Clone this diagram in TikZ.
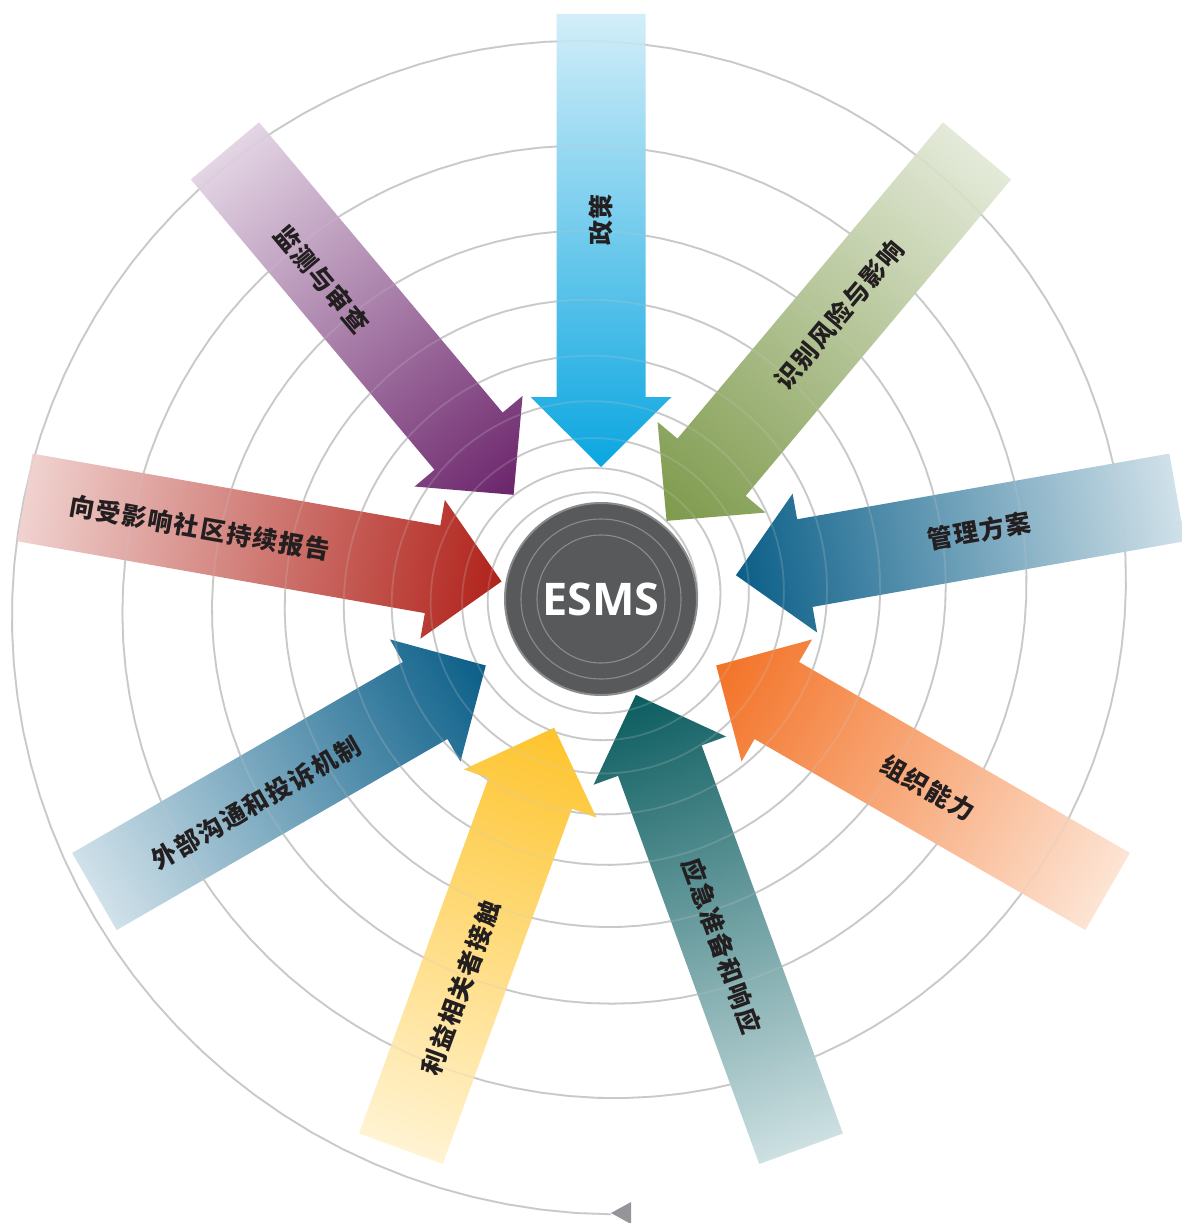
\documentclass[tikz,border=0pt]{standalone}
\usepackage{fontspec}
\newfontfamily\cjk{Noto Sans CJK SC}[LetterSpace=6]
\newfontfamily\esmsfont{Open Sans}
\definecolor{spiralgray}{HTML}{C9C9C9}
\definecolor{tricolor}{HTML}{939598}
\definecolor{esmsfill}{HTML}{58595B}
\definecolor{esmsrim}{HTML}{8A8B8D}
\definecolor{esmsinner}{HTML}{8A8B8D}
\definecolor{lblcolor}{HTML}{231F20}
\definecolor{hBlue}{HTML}{0AA6E0}\definecolor{tBlue}{HTML}{D3EEF9}
\definecolor{hGreen}{HTML}{7E9A4C}\definecolor{tGreen}{HTML}{E4EAD9}
\definecolor{hNavy}{HTML}{0A5E88}\definecolor{tNavy}{HTML}{D0E1E9}
\definecolor{hOrange}{HTML}{F37226}\definecolor{tOrange}{HTML}{FDE4D4}
\definecolor{hTeal}{HTML}{0B5C5F}\definecolor{tTeal}{HTML}{CDE0E2}
\definecolor{hYellow}{HTML}{FEC42D}\definecolor{tYellow}{HTML}{FFF3D2}
\definecolor{hRed}{HTML}{B0221A}\definecolor{tRed}{HTML}{F0D2CF}
\definecolor{hPurple}{HTML}{6B246B}\definecolor{tPurple}{HTML}{E3D5E4}
\newcommand\esarrow[4]{%
  \begin{scope}[transform canvas={shift={(601,599)},rotate=#1}]
    \shade[left color=#3,right color=#4]
      (585,-44.5) -- ({#2+70},-44.5) -- ({#2+70},-70.5) -- (#2,0)
      -- ({#2+70},70.5) -- ({#2+70},44.5) -- (585,44.5) -- cycle;
  \end{scope}}
\newcommand\spiralpath{plot[variable=\t,domain=-1.2:3250,samples=1000]
  ({598-617*exp(-0.000578*\t)*sin(\t)},{597+617*exp(-0.000578*\t)*cos(\t)})}
\begin{document}
\begin{tikzpicture}[x=1pt,y=-1pt,
  spiralline/.style={line width=1.8pt,draw=spiralgray},
  lbl/.style={font=\cjk\bfseries\fontsize{25}{25}\selectfont,text=lblcolor,inner sep=0pt},
  esmstext/.style={font=\esmsfont\bfseries\fontsize{45}{45}\selectfont,text=white,inner sep=0pt},
  ring/.style={draw=esmsinner,line width=1.1pt}]
\useasboundingbox (0,0) rectangle (1182,1223);
\clip (0,0) rectangle (1182,1223);
\fill[white] (0,0) rectangle (1182,1223);
% spiral
\draw[spiralline] \spiralpath;
\fill[tricolor] (611,1213) -- (631,1202) -- (631,1224) -- cycle;
% arrows
\esarrow{90}{132}{hBlue}{tBlue}
\esarrow{50}{102}{hGreen}{tGreen}
\esarrow{10}{137}{hNavy}{tNavy}
\esarrow{-30}{133}{hOrange}{tOrange}
\esarrow{-70}{102}{hTeal}{tTeal}
\esarrow{-110}{137}{hYellow}{tYellow}
\esarrow{-150}{133}{hNavy}{tNavy}
\esarrow{170}{101}{hRed}{tRed}
\esarrow{130}{136}{hPurple}{tPurple}
% spiral seen through arrows
\draw[spiralline,opacity=0.22] \spiralpath;
% centre
\node[circle,minimum size=192pt,inner sep=0pt,fill=esmsfill,draw=esmsrim,line width=2pt] (esms) at (601,599) {};
\draw[ring] (esms.center) circle[radius=80pt];
\draw[ring] (esms.center) circle[radius=64pt];
\node[esmstext] (esmslabel) at (601,599) {ESMS};
% labels
\node[lbl,rotate=90] (l1) at (601,220) {政策};
\node[lbl,rotate=50] (l2) at (839.5,314.8) {识别风险与影响};
\node[lbl,rotate=10] (l3) at (979,531) {管理方案};
\node[lbl,rotate=-30] (l4) at (928,788) {组织能力};
\node[lbl,rotate=-70] (l5) at (722,946) {应急准备和响应};
\node[lbl,rotate=70] (l6) at (461,988) {利益相关者接触};
\node[lbl,rotate=30] (l7) at (256,803) {外部沟通和投诉机制};
\node[lbl,rotate=-10] (l8) at (200,528) {向受影响社区持续报告};
\node[lbl,rotate=-50] (l9) at (322,279) {监测与审查};
\end{tikzpicture}
\end{document}
